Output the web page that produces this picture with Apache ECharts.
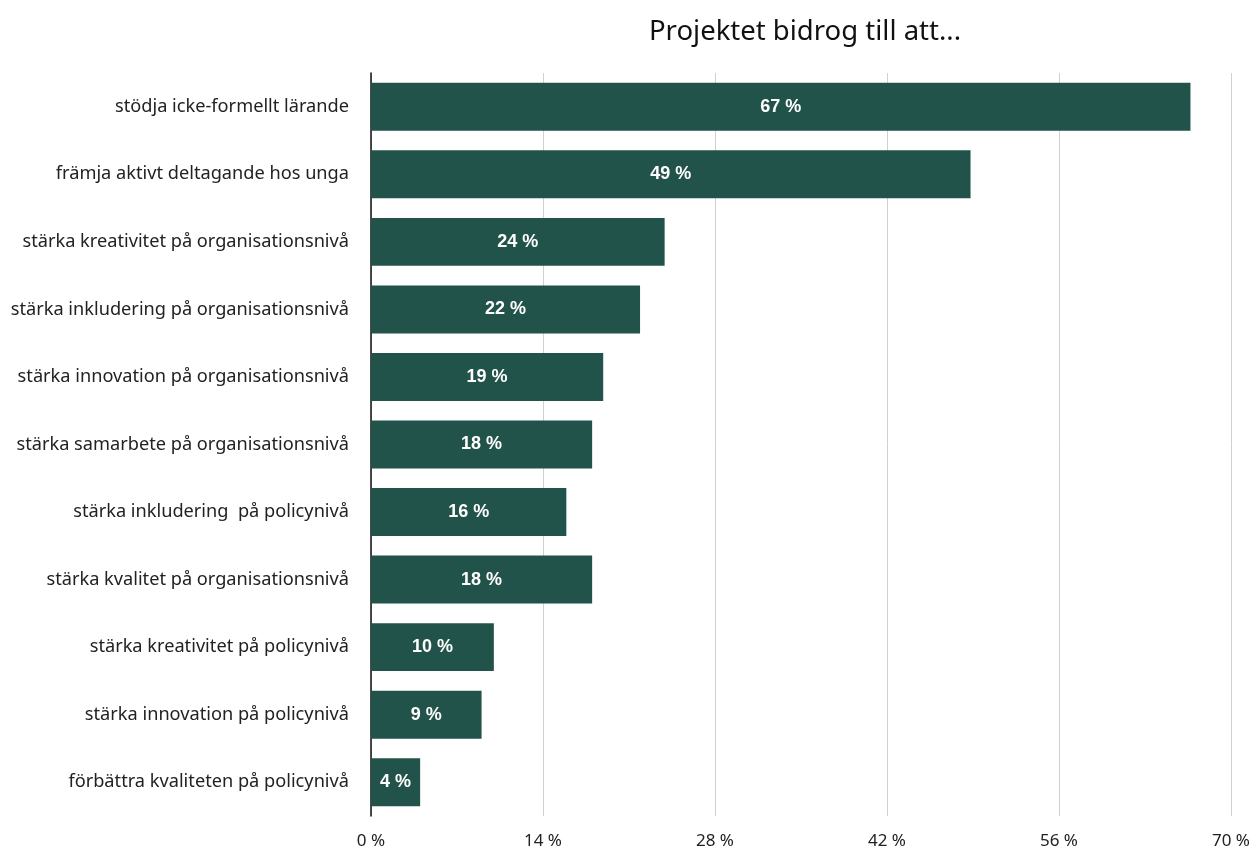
<!DOCTYPE html>
<html>
<head>
<meta charset="utf-8">
<script src="https://cdn.jsdelivr.net/npm/echarts@6/dist/echarts.min.js"></script>
<style>html,body{margin:0;padding:0;background:#fff}#c{width:1260px;height:850px}</style>
</head>
<body>
<div id="c"></div>
<script>
const categories = [
  "stödja icke-formellt lärande",
  "främja aktivt deltagande hos unga",
  "stärka kreativitet på organisationsnivå",
  "stärka inkludering på organisationsnivå",
  "stärka innovation på organisationsnivå",
  "stärka samarbete på organisationsnivå",
  "stärka inkludering  på policynivå",
  "stärka kvalitet på organisationsnivå",
  "stärka kreativitet på policynivå",
  "stärka innovation på policynivå",
  "förbättra kvaliteten på policynivå"
];
const values = [66.7, 48.8, 23.9, 21.9, 18.9, 18.0, 15.9, 18.0, 10.0, 9.0, 4.0];
const xTicks = [0, 14, 28, 42, 56, 70];

const chart = echarts.init(document.getElementById('c'));
chart.setOption({
  animation: false,
  title: {
    text: 'Projektet bidrog till att...',
    left: 800, top: 13, textAlign: 'center',
    textStyle: {fontFamily: 'Noto Sans', fontSize: 27.5, fontWeight: 'normal', color: '#111'}
  },
  grid: {left: 371, right: 29, top: 73, bottom: 33, containLabel: false},
  xAxis: {
    type: 'value', min: xTicks[0], max: xTicks[xTicks.length - 1], interval: 14,
    axisLine: {show: false}, axisTick: {show: false},
    splitLine: {show: true, lineStyle: {color: '#d0d0d0', width: 1}},
    axisLabel: {formatter: v => v + ' %', fontFamily: 'Noto Sans', fontSize: 17, color: '#222', margin: 17}
  },
  yAxis: {
    type: 'category', data: categories, inverse: true,
    axisLine: {show: true, lineStyle: {color: '#111', width: 1.5}},
    axisTick: {show: false},
    axisLabel: {fontFamily: 'Noto Sans', fontSize: 18.2, color: '#222', margin: 22}
  },
  series: [{
    type: 'bar', data: values, barCategoryGap: '29%',
    itemStyle: {color: '#22534a'},
    label: {
      show: true, position: 'inside',
      formatter: p => Math.round(p.value) + ' %',
      fontFamily: 'Liberation Sans', fontWeight: 'bold', fontSize: 18, color: '#fff'
    }
  }]
});
</script>
</body>
</html>
